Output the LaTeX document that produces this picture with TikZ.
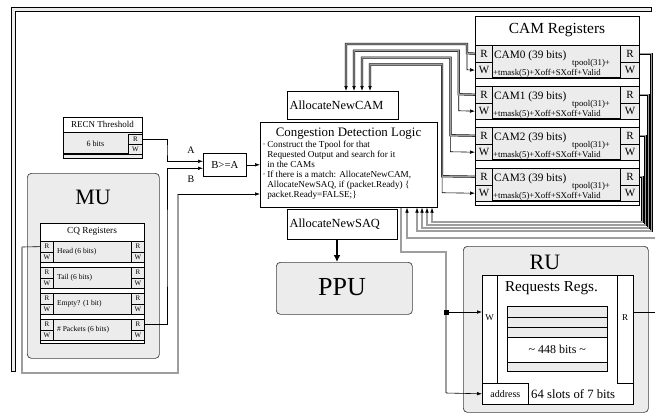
\documentclass[tikz,border=0pt]{standalone}
\usepackage{fontspec}
\setmainfont{Liberation Serif}
\usetikzlibrary{arrows.meta}
\newcommand\fsz[1]{\fontsize{#1}{#1}\selectfont}
\newcommand\fszb[2]{\fontsize{#1}{#2}\selectfont}
\definecolor{fillg}{gray}{0.925}
\definecolor{pipeg}{gray}{0.62}
\tikzset{
  box/.style={draw, line width=0.6pt, inner sep=0, anchor=north west},
  wbox/.style={box, fill=white},
  gbox/.style={box, fill=fillg},
  rbox/.style={box, fill=fillg, rounded corners=4pt, line width=0.7pt, draw=black!75},
  txt/.style={inner sep=0},
  wire/.style={line width=0.6pt},
  pipe/.style={line width=0.5pt, double=pipeg, double distance=1.2pt},
  bigpipe/.style={line width=0.6pt, double=fillg, double distance=3.8pt},
  tip/.style={line width=0.6pt, -{Latex[length=5pt,width=3.6pt]}},
}
\begin{document}
\begin{tikzpicture}[x=1pt,y=-1pt]
\useasboundingbox (0,0) rectangle (655,415);
\coordinate (offA) at (655,238);
\coordinate (offB) at (655,312);

% outer bus
\draw[bigpipe] (13.5,371) -- (13.5,9.5) -- (651,9.5);
\draw[line width=0.6pt] (11.3,371) -- (15.7,371) (651,7.3) -- (651,11.7);

% MU
\node[rbox, minimum width=132pt, minimum height=185pt] (mu) at (27,173) {};
\node[txt, font=\fsz{22}] (muT) at (93,197) {MU};
\node[wbox, minimum width=104pt, minimum height=120pt] (cq) at (40,223) {};
\node[txt, font=\fsz{9.3}] (cqT) at (92,231.5) {CQ Registers};
\foreach \i/\t/\lab in {0/241/Head (6 bits), 1/267/Tail (6 bits), 2/293/Empty? (1 bit), 3/319/\# Packets (6 bits)} {
  \node[gbox, line width=0.4pt, minimum width=104pt, minimum height=21pt] (cqrow\i) at (40,\t) {};
  \draw[line width=1.1pt] (cqrow\i.south west) -- (cqrow\i.south east);
  \node[gbox, line width=0.8pt, minimum width=13pt, minimum height=10.5pt, font=\fsz{7}] (cqLR\i) at (40,\t) {R};
  \node[gbox, line width=0.8pt, minimum width=13pt, minimum height=10.5pt, font=\fsz{7}] (cqLW\i) at (40,\t+10.5) {W};
  \node[gbox, line width=0.8pt, minimum width=13pt, minimum height=10.5pt, font=\fsz{7}] (cqRR\i) at (131,\t) {R};
  \node[gbox, line width=0.8pt, minimum width=13pt, minimum height=10.5pt, font=\fsz{7}] (cqRW\i) at (131,\t+10.5) {W};
  \node[txt, anchor=west, font=\fsz{7.5}] (cqL\i) at (57,\t+10.5) {\lab};
}

% RECN threshold
\fill[fillg] (63,133) rectangle (142,158);
\node[box, minimum width=79pt, minimum height=41pt] (recn) at (63,117) {};
\node[txt, font=\fsz{9}] (recnT) at (102.5,124.5) {RECN Threshold};
\draw[line width=0.9pt] (63,132.5) -- (142,132.5);
\draw[line width=1.1pt] (63,154) -- (142,154);
\node[gbox, line width=0.8pt, minimum width=14pt, minimum height=10pt, font=\fsz{7}] (recnR) at (128,134) {R};
\node[gbox, line width=0.8pt, minimum width=14pt, minimum height=10pt, font=\fsz{7}] (recnW) at (128,144) {W};
\node[txt, font=\fsz{8}] (recnB) at (95.5,143.5) {6 bits};

% comparator
\node[wbox, minimum width=43pt, minimum height=23pt, font=\fsz{10.7}] (cmp) at (203,153) {B>=A};
\node[txt, font=\fsz{10}] (labA) at (191,150) {A};
\node[txt, font=\fsz{10}] (labB) at (191,179) {B};

% CDL
\node[wbox, minimum width=177pt, minimum height=85pt] (cdl) at (260,122) {};
\node[txt, font=\fsz{12.9}] (cdlT) at (348.5,134) {Congestion Detection Logic};
\node[txt, anchor=north west, align=left, font=\fszb{9.2}{10}] (cdlB) at (262.5,140.5)
  {·\,Construct the Tpool for that\\
   \hphantom{·\,}Requested Output and search for it\\
   \hphantom{·\,}in the CAMs\\
   ·\,If there is a match: AllocateNewCAM,\\
   \hphantom{·\,}AllocateNewSAQ, if (packet.Ready) \{\\
   \hphantom{·\,}packet.Ready=FALSE;\}};

% AllocateNewCAM / SAQ / PPU
\node[wbox, minimum width=111pt, minimum height=28pt] (anc) at (287,91) {};
\node[txt, anchor=west, font=\fsz{12.4}] (ancT) at (289.5,105) {AllocateNewCAM};
\node[wbox, minimum width=110pt, minimum height=30pt] (ans) at (287,209) {};
\node[txt, anchor=west, font=\fsz{12.4}] (ansT) at (289.5,224) {AllocateNewSAQ};
\node[rbox, minimum width=136pt, minimum height=52pt] (ppu) at (276,262) {};
\node[txt, font=\fsz{26}] (ppuT) at (342,287) {PPU};
\draw[line width=2pt, -{Latex[length=7pt,width=7pt]}] (ans.south -| 337,0) -- (ppu.north -| 337,0);

% CAM registers
\node[wbox, minimum width=164pt, minimum height=189pt] (cam) at (475,16) {};
\node[txt, font=\fsz{15.4}] (camT) at (557,30.5) {CAM Registers};
\foreach \i in {0,1,2,3} {
  \pgfmathsetmacro\t{45+41*\i}
  \fill[fillg] (475,\t) rectangle (639,\t+33);
  \draw[line width=0.5pt] (475,\t) -- (639,\t);
  \draw[line width=1.1pt] (475,\t+33) -- (639,\t+33);
  \node[gbox, line width=0.9pt, minimum width=17pt, minimum height=16.5pt, font=\fsz{11}] (camLR\i) at (475,\t) {R};
  \node[gbox, line width=0.9pt, minimum width=17pt, minimum height=16.5pt, font=\fsz{11}] (camLW\i) at (475,\t+16.5) {W};
  \node[gbox, line width=0.9pt, minimum width=19pt, minimum height=16.5pt, font=\fsz{11}] (camRR\i) at (620,\t) {R};
  \node[gbox, line width=0.9pt, minimum width=19pt, minimum height=16.5pt, font=\fsz{11}] (camRW\i) at (620,\t+16.5) {W};
  \node[txt, anchor=base west, font=\fsz{11.3}] (camN\i) at (494,\t+13) {CAM\i{} (39 bits)};
  \node[txt, anchor=base west, font=\fsz{8.8}] (camP\i) at (572,\t+20) {tpool(31)+};
  \node[txt, anchor=base west, font=\fsz{8.8}] (camM\i) at (493,\t+30) {+tmask(5)+Xoff+SXoff+Valid};
}
\draw[line width=0.6pt] (cam.north west) rectangle (cam.south east);

% CAM left wiring to AllocateNewCAM
\foreach \i in {0,1,2,3} {
  \pgfmathsetmacro\t{45+41*\i}
  \pgfmathsetmacro\xa{346+8*\i}
  \pgfmathsetmacro\yt{44+6.8*\i}
  \pgfmathsetmacro\xv{467-8.3*\i}
  \draw[pipe] (camLR\i.west) -- (\xv,\t+8.25) -- (\xv,\yt) -- (\xa,\yt) -- (\xa,87);
  \draw[tip] (\xa,86) -- (anc.north -| \xa,0);
  \draw[tip] (\xv,\t+9.5) -- (\xv,\t+24.75) -- (camLW\i.west);
}

% CAM right wiring to CDL
\foreach \i/\xr/\yb/\xc in {0/651.5/231/417, 1/648.5/228/422, 2/645.5/225/427, 3/642.5/222/432} {
  \draw[pipe] (camRR\i.east) -| (\xr,\yb) -- (\xc,\yb) -- (\xc,213);
  \draw[tip] (\xc,213) -- (cdl.south -| \xc,0);
}
\draw[pipe] (offA) -- (407,238) -- (407,213);
\draw[tip] (407,213) -- (cdl.south -| 407,0);

% MU and comparator wiring
\draw[wire] (cqLR0.west) -- (22,247);
\draw[pipe] (22,247) -- (22,373) -- (178,373) -- (178,194);
\draw[tip] (178,194) -- (cdl.west |- 178,194);
\draw[tip] (recnR.east) -| (167,150) |- ([yshift=3.5pt]cmp.west);
\draw[tip] (cqRR3.east) -| (167,250) |- ([yshift=-3.5pt]cmp.west);
\draw[tip] (cmp.east) -- (cmp.east -| cdl.west);

% RU
\node[rbox, minimum width=185pt, minimum height=166pt] (ru) at (463,246) {};
\node[txt, font=\fsz{22}] (ruT) at (545,262) {RU};
\node[wbox, minimum width=151pt, minimum height=129pt] (rin) at (482,275) {};
\node[txt, font=\fsz{15.2}] (rrT) at (551.5,288) {Requests Regs.};
\node[wbox, minimum width=15pt, minimum height=108pt] (ruW) at (482,275) {};
\node[txt, font=\fsz{9}] (ruWl) at (489.5,318) {W};
\node[wbox, minimum width=16pt, minimum height=108pt] (ruR) at (617,275) {};
\node[txt, font=\fsz{9}] (ruRl) at (625,318) {R};
\node[wbox, minimum width=46pt, minimum height=21pt, font=\fsz{10}] (addr) at (482,383) {address};
\node[txt, anchor=west, font=\fsz{12.7}] (slots) at (531,394) {64 slots of 7 bits};
\node[gbox, minimum width=100pt, minimum height=11pt] (reg0) at (507,306) {};
\node[gbox, minimum width=100pt, minimum height=10pt] (reg1) at (507,317) {};
\node[gbox, minimum width=100pt, minimum height=10pt] (reg2) at (507,327) {};
\node[wbox, minimum width=100pt, minimum height=25pt, font=\fsz{12}] (reg3) at (507,337) {\textasciitilde{} 448 bits \textasciitilde};
\node[gbox, minimum width=100pt, minimum height=9pt] (reg4) at (507,362) {};

% CDL to RU
\draw[pipe] (cdl.south -| 401,0) -- (401,252) -- (446,252) -- (446,393);
\node[fill, inner sep=0, minimum size=5pt] (jn) at (446,312) {};
\draw[tip] (446,393) -- (addr.west);
\draw[tip] (jn.center) -- (ruW.west |- jn.center);
\draw[wire] (ruR.east |- jn.center) -- (offB);
\end{tikzpicture}
\end{document}
